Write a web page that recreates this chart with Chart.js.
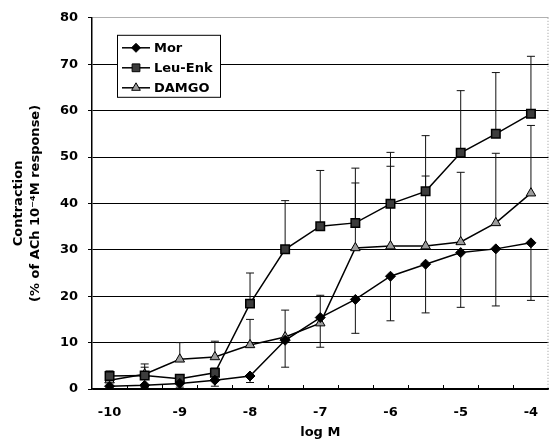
<!DOCTYPE html>
<html><head><meta charset="utf-8">
<script src="https://cdn.jsdelivr.net/npm/chart.js@4"></script>
<style>html,body{margin:0;padding:0;background:#fff}#wrap{width:556px;height:440px}</style>
</head><body><div id="wrap"><canvas id="c" width="556" height="440"></canvas></div>
<script>
const logM = [-10,-9.5,-9,-8.5,-8,-7.5,-7,-6.5,-6,-5.5,-5,-4.5,-4];
const morMean = [0.6,0.8,1.2,1.9,2.8,10.5,15.4,19.3,24.3,26.9,29.4,30.2,31.5];
const morSEM  = [0.5,0.5,0.8,1.3,1.4,5.8,6.4,7.3,9.6,10.5,11.8,12.3,12.4];
const leuMean = [2.8,2.9,2.2,3.5,18.4,30.1,35.1,35.8,39.9,42.6,50.9,55.0,59.3];
const leuSEM  = [1.1,2.5,0.8,1.0,6.6,10.5,12.0,11.8,11.1,12.0,13.4,13.2,12.4];
const damMean = [1.9,3.2,6.4,6.9,9.5,11.2,14.2,30.4,30.8,30.8,31.7,35.8,42.2];
const damSEM  = [1.0,1.5,3.6,3.4,5.5,5.8,6.0,14.0,17.2,15.1,15.0,15.0,14.6];
const yMin = 0, yMax = 80, yStep = 10;
const yTitle = ['Contraction', '(% of ACh 10\u207B\u2074M response)'];
const xTitle = 'log M';

const FONT = 'DejaVu Sans';

const errorBars = {
  id: 'errorBars',
  beforeDatasetsDraw(chart) {
    const ctx = chart.ctx, ys = chart.scales.y;
    ctx.save();
    ctx.strokeStyle = '#111';
    ctx.lineWidth = 1;
    chart.data.datasets.forEach((ds, di) => {
      const meta = chart.getDatasetMeta(di);
      meta.data.forEach((pt, i) => {
        const v = ds.data[i], e = ds.errors[i];
        const y2 = ys.getPixelForValue(v + ds.errDir * e);
        const x = pt.x, y1 = pt.y;
        ctx.beginPath();
        ctx.moveTo(x, y1); ctx.lineTo(x, y2);
        ctx.moveTo(x - 4, y2); ctx.lineTo(x + 4, y2);
        ctx.stroke();
      });
    });
    ctx.restore();
  }
};

const frame = {
  id: 'frame',
  afterDraw(chart) {
    const ctx = chart.ctx, a = chart.chartArea, xs = chart.scales.x;
    ctx.save();
    ctx.strokeStyle = '#000'; ctx.lineWidth = 1;
    const half = (xs.getPixelForValue(1) - xs.getPixelForValue(0)) / 2;
    for (let i = 0; i < logM.length - 1; i++) {
      const px = Math.round(xs.getPixelForValue(i) + half) + 0.5;
      ctx.beginPath(); ctx.moveTo(px, a.bottom); ctx.lineTo(px, a.bottom - 4); ctx.stroke();
    }
    ctx.strokeStyle = '#999'; ctx.setLineDash([1, 2]);
    ctx.beginPath(); ctx.moveTo(a.right - 0.5, a.top); ctx.lineTo(a.right - 0.5, a.bottom); ctx.stroke();
    ctx.restore();
    const bx = a.left + 25, by = a.top + 17, bw = 103, bh = 62;
    ctx.save();
    ctx.fillStyle = '#fff'; ctx.fillRect(bx, by, bw, bh);
    ctx.strokeStyle = '#000'; ctx.lineWidth = 1;
    ctx.strokeRect(bx + 0.5, by + 0.5, bw, bh);
    ctx.font = 'bold 13px "' + FONT + '"';
    ctx.textBaseline = 'middle'; ctx.fillStyle = '#000';
    chart.data.datasets.forEach((ds, i) => {
      const yy = by + 13 + i * 20;
      ctx.strokeStyle = '#000'; ctx.lineWidth = 1.5;
      ctx.beginPath(); ctx.moveTo(bx + 5, yy); ctx.lineTo(bx + 33, yy); ctx.stroke();
      ctx.fillStyle = ds.pointBackgroundColor; ctx.strokeStyle = '#000'; ctx.lineWidth = 1;
      Chart.helpers.drawPoint(ctx, {pointStyle: ds.pointStyle, radius: ds.pointRadius - 0.5, rotation: 0, borderWidth: 1}, bx + 19, yy);
      ctx.fillStyle = '#000';
      ctx.fillText(ds.label, bx + 37, yy + 1);
    });
    ctx.restore();
  }
};

new Chart(document.getElementById('c'), {
  type: 'line',
  data: {
    labels: logM,
    datasets: [
      {label: 'Mor', data: morMean, errors: morSEM, errDir: -1, borderColor: '#000', borderWidth: 1.5,
       pointStyle: 'rectRot', pointRadius: 5, pointBackgroundColor: '#000', pointBorderColor: '#000', pointBorderWidth: 1, tension: 0},
      {label: 'Leu-Enk', data: leuMean, errors: leuSEM, errDir: 1, borderColor: '#000', borderWidth: 1.5,
       pointStyle: 'rect', pointRadius: 6, pointBackgroundColor: '#3c3c3c', pointBorderColor: '#000', pointBorderWidth: 1.5, tension: 0},
      {label: 'DAMGO', data: damMean, errors: damSEM, errDir: 1, borderColor: '#000', borderWidth: 1.5,
       pointStyle: 'triangle', pointRadius: 5.5, pointBackgroundColor: '#9c9c9c', pointBorderColor: '#000', pointBorderWidth: 1, tension: 0}
    ]
  },
  options: {
    responsive: false, animation: false,
    layout: {padding: {top: 17, right: 2, left: 0, bottom: 0}},
    plugins: {legend: {display: false}, tooltip: {enabled: false}},
    scales: {
      x: {
        type: 'category', offset: true,
        grid: {display: true, drawOnChartArea: false, drawTicks: false, offset: true},
        border: {color: '#000', width: 1.5},
        ticks: {autoSkip: false, maxRotation: 0, padding: 16, color: '#000',
          font: {family: FONT, weight: 'bold', size: 13},
          callback: function(v, i) { const l = logM[i]; return Number.isInteger(l) ? String(l) : ''; }},
        title: {display: true, text: xTitle, color: '#000', padding: {top: 0, bottom: 0},
          font: {family: FONT, weight: 'bold', size: 13}},
        afterFit(s) { s.height = 51; }
      },
      y: {
        min: yMin, max: yMax,
        ticks: {stepSize: yStep, padding: 10, color: '#000', font: {family: FONT, weight: 'bold', size: 13}},
        grid: {color: c => (c.tick && c.tick.value === yMax) ? '#b0b0b0' : '#000', lineWidth: 1, tickLength: 4, tickColor: '#000'},
        border: {color: '#000', width: 1.5},
        title: {display: true, text: yTitle, color: '#000', padding: {top: 10, bottom: 0},
          font: {family: FONT, weight: 'bold', size: 13, lineHeight: 1.3}},
        afterFit(s) { s.width = 92; }
      }
    }
  },
  plugins: [errorBars, frame]
});
</script></body></html>
